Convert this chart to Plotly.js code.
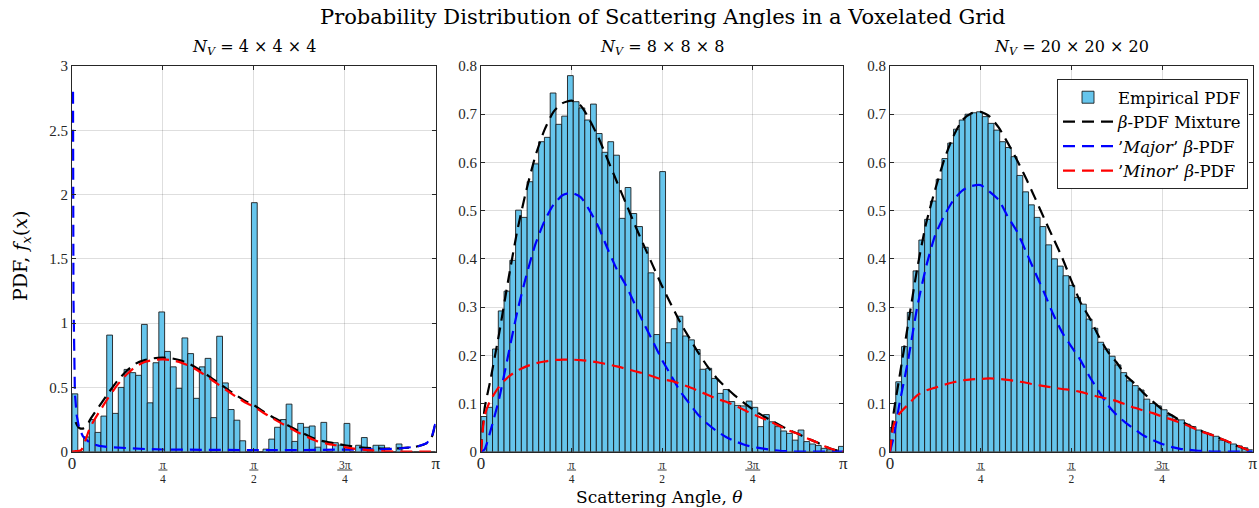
<!DOCTYPE html>
<html>
<head>
<meta charset="utf-8">
<script src="https://cdn.plot.ly/plotly-3.0.1.min.js"></script>
<style>html,body{margin:0;padding:0;background:#fff;}#chart{width:1259px;height:508px;}</style>
</head>
<body>
<div id="chart"></div>
<script>
// ---------- DATA ----------
const binWidth = 0.05; // histogram bin width (rad), bins start at 0
const panelTitles = ["<i>N</i><sub><i>V</i></sub> = 4 × 4 × 4", "<i>N</i><sub><i>V</i></sub> = 8 × 8 × 8", "<i>N</i><sub><i>V</i></sub> = 20 × 20 × 20"];
const seriesNames = ["Empirical PDF", "<i>β</i>-PDF Mixture", "’<i>Major</i>’ <i>β</i>-PDF", "’<i>Minor</i>’ <i>β</i>-PDF"];
const xTickFrac = [0, 0.25, 0.5, 0.75, 1];
const xTickText = ["<span style='font-size:17px'>0</span>", "π<br>4", "π<br>2", "3π<br>4", "<span style='font-size:17px'>π</span>"];
const xTickBarHalfPx = [0, 4.5, 4.5, 7.5, 0]; // fraction-bar half widths of the tick labels

const pdf4 = [0.45,0,0.115,0.25,0.15,0.277,0.907,0.298,0.5,0.64,
  0.615,0.594,0.99,0.38,0.692,1.087,0.78,0.66,0.493,0.885,
  0.763,0.415,0.66,0.726,0.265,0.898,0.535,0.328,0.245,0.085,
  0,1.937,0,0.02,0.098,0.19,0.25,0.37,0.08,0.22,
  0.19,0.2,0.035,0.228,0,0.07,0.052,0.22,0,0.05,
  0.11,0,0.05,0.05,0,0,0.06,0,0,0,0,0,0];
const pdf8 = [0.073,0.092,0.213,0.292,0.333,0.397,0.501,0.486,0.56,0.597,
  0.643,0.652,0.744,0.679,0.696,0.78,0.726,0.713,0.688,0.721,
  0.66,0.621,0.643,0.615,0.484,0.548,0.494,0.467,0.424,0.371,
  0.243,0.581,0.226,0.255,0.281,0.24,0.232,0.212,0.171,0.173,
  0.152,0.121,0.129,0.104,0.096,0.095,0.105,0.092,0.052,0.077,
  0.062,0.052,0.043,0.038,0.024,0.045,0.021,0.016,0.013,0.007,0.004,0.003,0.011];
const pdf20 = [0.05,0.145,0.218,0.289,0.375,0.439,0.482,0.52,0.565,0.608,
  0.64,0.669,0.688,0.70,0.703,0.705,0.695,0.681,0.667,0.643,
  0.631,0.612,0.573,0.539,0.512,0.486,0.467,0.429,0.40,0.385,
  0.365,0.345,0.32,0.306,0.275,0.256,0.227,0.213,0.198,0.18,
  0.164,0.147,0.137,0.128,0.109,0.1,0.095,0.087,0.076,0.067,
  0.066,0.057,0.052,0.045,0.04,0.036,0.032,0.024,0.021,0.016,0.012,0.008,0.004];

// curve sample positions, as fractions of pi
const gridT = [0,0.01,0.025,0.05,0.075,0.1,0.125,0.15,0.175,0.2,0.225,0.25,0.275,0.3,0.325,0.35,0.375,0.4,0.425,0.45,0.475,0.5,0.525,0.55,0.575,0.6,0.625,0.65,0.675,0.7,0.725,0.75,0.775,0.8,0.825,0.85,0.875,0.9,0.925,0.95,0.975,1];

// N = 4
const mix4T = [0.01,0.015,0.02,0.03,0.04,0.05,0.075,0.1,0.125,0.15,0.175,0.2,0.225,0.25,0.275,0.3,0.325,0.35,0.375,0.4,0.425,0.45,0.475,0.5,0.525,0.55,0.575,0.6,0.625,0.65,0.675,0.7,0.725,0.75,0.775,0.8,0.825,0.85,0.875,0.9,0.925,0.95,0.975,0.99,1];
const mix4 = [0.23,0.2,0.185,0.18,0.2,0.25,0.355,0.457,0.552,0.628,0.685,0.712,0.727,0.731,0.726,0.708,0.68,0.638,0.59,0.54,0.49,0.442,0.397,0.362,0.315,0.272,0.234,0.195,0.158,0.123,0.093,0.076,0.063,0.05,0.039,0.032,0.028,0.025,0.024,0.026,0.031,0.042,0.067,0.12,0.23];
const major4T = [0.0028,0.004,0.008,0.013,0.02,0.03,0.05,0.075,0.1,0.15,0.2,0.25,0.3,0.4,0.5,0.6,0.7,0.8,0.85,0.9,0.95,0.975,0.99,1];
const major4 = [2.8,1.2,0.45,0.28,0.18,0.12,0.065,0.045,0.036,0.027,0.021,0.017,0.015,0.013,0.012,0.012,0.013,0.016,0.019,0.025,0.04,0.065,0.12,0.23];
const minor4 = [0,0.004,0.012,0.19,0.31,0.42,0.52,0.6,0.662,0.698,0.714,0.718,0.712,0.693,0.665,0.624,0.577,0.527,0.478,0.43,0.385,0.35,0.305,0.262,0.222,0.183,0.145,0.11,0.08,0.063,0.05,0.036,0.024,0.016,0.01,0.005,0.002,0.001,0,0,0,0];

// N = 8
const mix8 = [0,0.09,0.145,0.245,0.355,0.458,0.542,0.613,0.667,0.705,0.723,0.728,0.718,0.688,0.65,0.605,0.56,0.515,0.47,0.427,0.385,0.343,0.305,0.268,0.236,0.205,0.177,0.153,0.134,0.117,0.102,0.088,0.076,0.065,0.055,0.045,0.037,0.028,0.02,0.011,0.004,0];
const major8 = [0,0.005,0.04,0.11,0.2,0.29,0.365,0.43,0.478,0.512,0.532,0.537,0.528,0.5,0.465,0.42,0.378,0.345,0.305,0.265,0.228,0.19,0.158,0.125,0.1,0.076,0.058,0.043,0.031,0.022,0.015,0.01,0.007,0.004,0.002,0.001,0,0,0,0,0,0];
const minor8 = [0,0.075,0.105,0.135,0.155,0.168,0.177,0.183,0.187,0.19,0.191,0.191,0.19,0.188,0.185,0.181,0.177,0.172,0.167,0.162,0.156,0.15,0.147,0.141,0.134,0.126,0.118,0.11,0.104,0.096,0.087,0.078,0.07,0.062,0.053,0.044,0.037,0.028,0.02,0.011,0.004,0];

// N = 20
const mix20 = [0,0.08,0.15,0.265,0.38,0.475,0.545,0.607,0.655,0.688,0.702,0.705,0.695,0.672,0.64,0.605,0.567,0.526,0.484,0.443,0.402,0.355,0.31,0.278,0.24,0.208,0.185,0.158,0.141,0.121,0.104,0.088,0.076,0.065,0.054,0.046,0.038,0.031,0.023,0.014,0.007,0];
const major20 = [0,0.03,0.095,0.19,0.3,0.385,0.45,0.49,0.522,0.542,0.551,0.553,0.539,0.522,0.487,0.457,0.415,0.372,0.33,0.285,0.247,0.218,0.19,0.156,0.126,0.097,0.076,0.06,0.046,0.033,0.024,0.016,0.01,0.006,0.004,0.002,0.001,0,0,0,0,0];
const minor20 = [0,0.055,0.078,0.098,0.117,0.127,0.133,0.139,0.144,0.148,0.15,0.151,0.152,0.151,0.149,0.146,0.143,0.139,0.136,0.133,0.13,0.128,0.124,0.119,0.114,0.11,0.105,0.098,0.091,0.085,0.08,0.073,0.067,0.06,0.053,0.044,0.038,0.031,0.023,0.015,0.007,0];

// ---------- BUILD ----------
const PI = Math.PI;
const toRad = a => a.map(t => t * PI);
const centers = vals => vals.map((_, k) => (k + 0.5) * binWidth);

const barColor = 'rgb(102,197,236)';
const serif = 'Liberation Serif, Times New Roman, serif';
const wideSerif = 'DejaVu Serif, serif';
const dashPat = '12px,7px';

const panels = [
  {pdf: pdf4, mix: [toRad(mix4T), mix4], major: [toRad(major4T), major4], minor: [toRad(gridT), minor4], yr: [0, 3], dy: 0.5, dom: [72, 435.7]},
  {pdf: pdf8, mix: [toRad(gridT), mix8], major: [toRad(gridT), major8], minor: [toRad(gridT), minor8], yr: [0, 0.8], dy: 0.1, dom: [481, 843.3]},
  {pdf: pdf20, mix: [toRad(gridT), mix20], major: [toRad(gridT), major20], minor: [toRad(gridT), minor20], yr: [0, 0.8], dy: 0.1, dom: [890, 1252.7]}
];

const W = 1259, H = 508;
const traces = [];
const layout = {
  width: W, height: H,
  margin: {l: 0, r: 0, t: 0, b: 0},
  paper_bgcolor: '#fff', plot_bgcolor: '#fff',
  font: {family: serif, color: '#262626', size: 14},
  showlegend: true,
  bargap: 0,
  legend: {
    x: 1248 / W, y: 1 - 79 / H, xanchor: 'right', yanchor: 'top',
    bgcolor: '#fff', bordercolor: '#262626', borderwidth: 1,
    font: {family: wideSerif, size: 16.5, color: '#000'},
    itemwidth: 50, tracegroupgap: 0
  },
  annotations: [],
  shapes: []
};

const yDom = [1 - 451.7 / H, 1 - 66 / H];

panels.forEach((p, i) => {
  const sfx = i === 0 ? '' : String(i + 1);
  const xa = 'x' + sfx, ya = 'y' + sfx;
  const leg = i === 2;
  traces.push({
    type: 'bar', x: centers(p.pdf), y: p.pdf, width: binWidth,
    xaxis: xa, yaxis: ya, name: seriesNames[0], showlegend: leg,
    marker: {color: barColor, line: {color: 'rgba(20,20,20,0.85)', width: 1}},
    hoverinfo: 'skip'
  });
  traces.push({
    type: 'scatter', mode: 'lines', x: p.mix[0], y: p.mix[1], xaxis: xa, yaxis: ya,
    name: seriesNames[1], showlegend: leg,
    line: {color: '#000', width: 2.2, dash: dashPat, shape: 'spline', smoothing: 0.6}
  });
  traces.push({
    type: 'scatter', mode: 'lines', x: p.major[0], y: p.major[1], xaxis: xa, yaxis: ya,
    name: seriesNames[2], showlegend: leg,
    line: {color: '#0000ff', width: 2.2, dash: dashPat, shape: i === 0 ? 'linear' : 'spline', smoothing: 0.6}
  });
  traces.push({
    type: 'scatter', mode: 'lines', x: p.minor[0], y: p.minor[1], xaxis: xa, yaxis: ya,
    name: seriesNames[3], showlegend: leg,
    line: {color: '#ff0000', width: 2.2, dash: dashPat, shape: 'spline', smoothing: 0.6}
  });

  const axCommon = {
    showline: true, linecolor: '#262626', linewidth: 1, mirror: 'ticks',
    ticks: 'inside', ticklen: 4, tickcolor: '#262626', tickwidth: 1,
    showgrid: true, gridcolor: 'rgba(0,0,0,0.13)', gridwidth: 1, zeroline: false,
    fixedrange: true
  };
  layout['xaxis' + sfx] = Object.assign({}, axCommon, {
    domain: [p.dom[0] / W, p.dom[1] / W], anchor: ya,
    range: [0, PI], tickmode: 'array', tickvals: toRad(xTickFrac), ticktext: xTickText,
    tickfont: {family: serif, size: 11.5, color: '#262626'}, ticklabelstandoff: 2
  });
  layout['yaxis' + sfx] = Object.assign({}, axCommon, {
    domain: yDom, anchor: xa, range: p.yr, dtick: p.dy, tick0: 0,
    tickfont: {family: serif, size: 15, color: '#262626'}
  });
  layout.annotations.push({
    text: panelTitles[i], xref: 'paper', yref: 'paper',
    x: (p.dom[0] + p.dom[1]) / 2 / W, y: 1 - 47 / H, xanchor: 'center', yanchor: 'middle',
    showarrow: false, font: {family: wideSerif, size: 16, color: '#000'}
  });
  // fraction bars of the pi/4, pi/2, 3pi/4 tick labels
  const radPerPx = PI / (p.dom[1] - p.dom[0]);
  xTickFrac.forEach((f, j) => {
    if (!xTickBarHalfPx[j]) return;
    const hw = xTickBarHalfPx[j] * radPerPx;
    layout.shapes.push({
      type: 'line', xref: xa, yref: 'paper',
      x0: f * PI - hw, x1: f * PI + hw, y0: 1 - 470 / H, y1: 1 - 470 / H,
      line: {color: '#262626', width: 0.9}
    });
  });
});

layout.annotations.push({
  text: 'Probability Distribution of Scattering Angles in a Voxelated Grid',
  xref: 'paper', yref: 'paper', x: 662 / W, y: 1 - 17 / H, xanchor: 'center', yanchor: 'middle',
  showarrow: false, font: {family: wideSerif, size: 21, color: '#000'}
});
layout.annotations.push({
  text: 'Scattering Angle, <i>θ</i>',
  xref: 'paper', yref: 'paper', x: 660 / W, y: 1 - 497 / H, xanchor: 'center', yanchor: 'middle',
  showarrow: false, font: {family: wideSerif, size: 17, color: '#000'}
});
layout.annotations.push({
  text: 'PDF, <i>f</i><sub><i>x</i></sub>(<i>x</i>)',
  xref: 'paper', yref: 'paper', x: 21 / W, y: 1 - 256 / H, xanchor: 'center', yanchor: 'middle',
  textangle: -90, showarrow: false, font: {family: wideSerif, size: 19, color: '#000'}
});

Plotly.newPlot('chart', traces, layout, {displayModeBar: false, staticPlot: true});
</script>
</body>
</html>
